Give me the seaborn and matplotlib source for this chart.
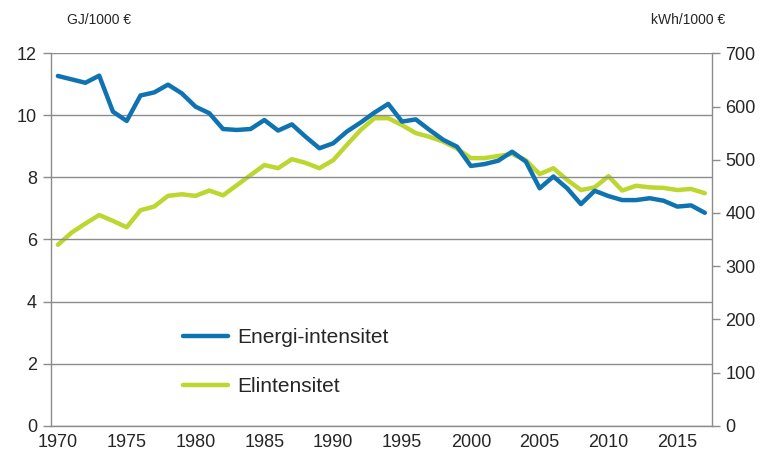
import numpy as np
import pandas as pd
import matplotlib
matplotlib.use("Agg")
import matplotlib.pyplot as plt
import seaborn as sns

years = list(range(1970, 2018))
energi_intensitet = [11.27, 11.16, 11.05, 11.28, 10.12, 9.82, 10.64, 10.74, 10.99, 10.71,
                     10.28, 10.07, 9.56, 9.53, 9.56, 9.85, 9.51, 9.71, 9.31, 8.94,
                     9.10, 9.48, 9.77, 10.09, 10.37, 9.80, 9.87, 9.53, 9.21, 8.99,
                     8.37, 8.43, 8.54, 8.83, 8.51, 7.65, 8.03, 7.65, 7.14, 7.57,
                     7.40, 7.27, 7.27, 7.33, 7.25, 7.06, 7.10, 6.86]
elintensitet = [340, 363, 380, 396, 385, 373, 405, 412, 432, 435,
                432, 442, 433, 452, 471, 490, 484, 501, 494, 484,
                499, 528, 556, 578, 578, 565, 550, 543, 534, 521,
                503, 503, 507, 511, 499, 473, 484, 462, 443, 448,
                469, 442, 451, 448, 447, 443, 445, 437]
series_names = ["Energi-intensitet", "Elintensitet"]
left_unit = "GJ/1000 €"
right_unit = "kWh/1000 €"
xtick_years = list(range(1970, 2016, 5))

df = pd.DataFrame({"year": years, "energi": energi_intensitet, "el": elintensitet})

sns.set_theme(style="white")
plt.rcParams["font.family"] = ["Liberation Sans", "DejaVu Sans"]

blue = "#0f73b1"
green = "#bdd630"
gray = "#8c8c8c"
txt = "#262626"

fig = plt.figure(figsize=(7.69, 4.61), dpi=100)
ax = fig.add_axes([51 / 769, 35.3 / 461, (711.7 - 51) / 769, (425.7 - 53.3) / 461])
ax2 = ax.twinx()

sns.lineplot(data=df, x="year", y="energi", ax=ax, color=blue, linewidth=3.2, legend=False)
sns.lineplot(data=df, x="year", y="el", ax=ax2, color=green, linewidth=3.2, legend=False)
ax.set_zorder(ax2.get_zorder() + 1)
ax.patch.set_visible(False)

ax.set_xlim(1969.5, 2017.5)
ax.set_ylim(0, 12)
ax2.set_ylim(0, 700)
ax.set_yticks(range(0, 13, 2))
ax2.set_yticks(range(0, 701, 100))
ax.set_xticks([y - 0.5 for y in xtick_years])
ax.set_xticklabels([])
ax.set_xticks(xtick_years, minor=True)
ax.set_xticklabels([str(y) for y in xtick_years], minor=True)
ax.tick_params(axis="x", which="major", length=6, width=1, color=gray, direction="out")
ax.tick_params(axis="x", which="minor", length=0, pad=6, labelsize=13, labelcolor=txt)
ax.tick_params(axis="y", length=6, width=1, color=gray, direction="out", labelsize=13,
               labelcolor=txt, pad=4, left=True)
ax2.tick_params(axis="y", length=6, width=1, color=gray, direction="out", labelsize=13,
                labelcolor=txt, pad=4, right=True)

ax.grid(axis="y", color=gray, linewidth=1)
ax.grid(axis="x", visible=False)
ax2.grid(False)
for a in (ax, ax2):
    for s in a.spines.values():
        s.set_color(gray)
        s.set_linewidth(1)
    a.set_xlabel("")
    a.set_ylabel("")
ax.spines["top"].set_visible(False)
ax2.spines["top"].set_visible(False)
ax.spines["right"].set_visible(False)
ax2.spines["left"].set_visible(False)
ax2.spines["bottom"].set_visible(False)

fig.text(67 / 769, 1 - 20 / 461, left_unit, fontsize=10, color=txt, ha="left", va="center")
fig.text(725 / 769, 1 - 20 / 461, right_unit, fontsize=10, color=txt, ha="right", va="center")

handles = [ax.lines[0], ax2.lines[0]]
ax.legend(handles, series_names, loc="center left", bbox_to_anchor=(183 / 769, (461 - 362) / 461),
          bbox_transform=fig.transFigure, frameon=False, fontsize=15, handlelength=2.15,
          handletextpad=0.45, labelspacing=1.45, borderpad=0, borderaxespad=0, labelcolor=txt)

fig.savefig("out.png", dpi=100)
